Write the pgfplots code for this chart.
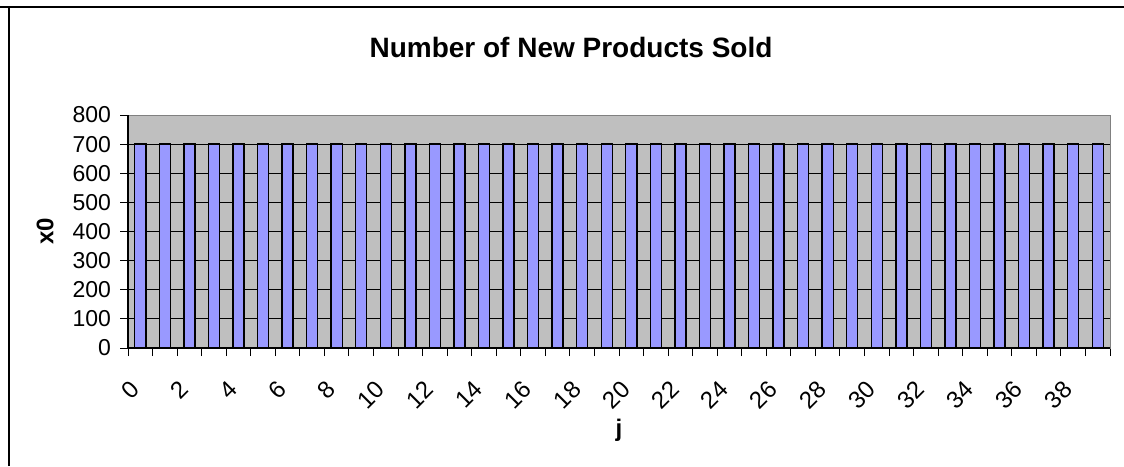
\documentclass[border=0pt]{standalone}
\usepackage{fontspec}
\setmainfont{Liberation Sans}
\usepackage{pgfplots}
\pgfplotsset{compat=1.18}
\begin{document}
\begin{tikzpicture}
\useasboundingbox (0,0) rectangle (562pt,233pt);
\draw[line width=1pt] (0,229.5pt) -- (562pt,229.5pt);
\draw[line width=1pt] (4.5pt,0) -- (4.5pt,229.5pt);
\node[font=\bfseries\fontsize{14}{16}\selectfont] at (285.5pt,209.5pt) {Number of New Products Sold};
\begin{axis}[
  at={(64pt,59pt)}, anchor=south west,
  scale only axis, width=491pt, height=116.5pt,
  xmin=0, xmax=40, ymin=0, ymax=800,
  axis background/.style={fill=black!25},
  axis line style={draw=black!50, line width=0.5pt},
  xtick={0,...,40},
  xticklabels={0,,2,,4,,6,,8,,10,,12,,14,,16,,18,,20,,22,,24,,26,,28,,30,,32,,34,,36,,38,,},
  ytick={0,100,...,800},
  xtick pos=bottom, ytick pos=left,
  tick align=outside,
  tick style={black, line width=0.5pt},
  major tick length=4pt,
  ymajorgrids,
  major grid style={black, line width=0.5pt},
  /pgf/number format/assume math mode=true,
  yticklabel style={font=\fontsize{11.5}{13}\selectfont, xshift=-1pt},
  xticklabel style={font=\fontsize{12}{13}\selectfont, rotate=45, anchor=north east, xshift=-4.5pt, yshift=-5pt},
  xlabel={\textbf{j}}, ylabel={\textbf{x0}},
  label style={font=\fontsize{12}{13}\selectfont},
  xlabel style={at={(0.5,-0.352)}, anchor=center},
  ylabel style={at={(-0.0845,0.5)}, anchor=center},
  clip=false,
]
\draw[black, line width=0.6pt] (rel axis cs:0,1) -- (rel axis cs:0,0) -- (rel axis cs:1,0);
\addplot[ybar, bar width=0.45, fill={rgb,255:red,153;green,153;blue,255}, draw=black, line width=0.7pt]
coordinates {
(0.5,700) (1.5,700) (2.5,700) (3.5,700) (4.5,700) (5.5,700) (6.5,700) (7.5,700) (8.5,700) (9.5,700)
(10.5,700) (11.5,700) (12.5,700) (13.5,700) (14.5,700) (15.5,700) (16.5,700) (17.5,700) (18.5,700) (19.5,700)
(20.5,700) (21.5,700) (22.5,700) (23.5,700) (24.5,700) (25.5,700) (26.5,700) (27.5,700) (28.5,700) (29.5,700)
(30.5,700) (31.5,700) (32.5,700) (33.5,700) (34.5,700) (35.5,700) (36.5,700) (37.5,700) (38.5,700) (39.5,700)
};
\end{axis}
\end{tikzpicture}
\end{document}
